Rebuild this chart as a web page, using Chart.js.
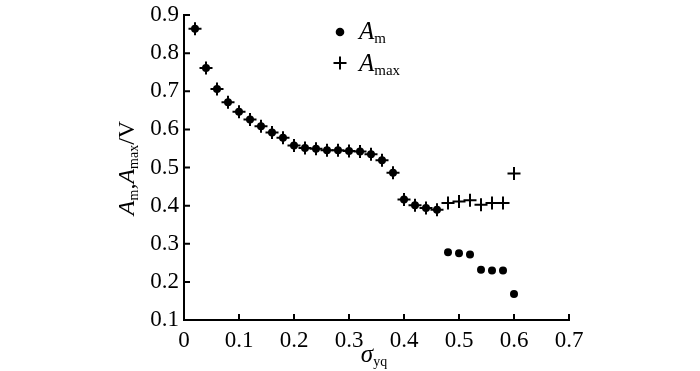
<!DOCTYPE html>
<html>
<head>
<meta charset="utf-8">
<script src="https://cdn.jsdelivr.net/npm/chart.js@4"></script>
<style>
  body { margin: 0; background: #fff; }
</style>
</head>
<body>
<canvas id="amChart" width="700" height="371"></canvas>
<script>
// sigma_yq values
var sigma = [0.02, 0.04, 0.06, 0.08, 0.10, 0.12, 0.14, 0.16, 0.18, 0.20,
             0.22, 0.24, 0.26, 0.28, 0.30, 0.32, 0.34, 0.36, 0.38, 0.40,
             0.42, 0.44, 0.46, 0.48, 0.50, 0.52, 0.54, 0.56, 0.58, 0.60];
// A_m (dots)
var am = [0.864, 0.761, 0.706, 0.671, 0.646, 0.626, 0.608, 0.592, 0.578, 0.558,
          0.551, 0.549, 0.545, 0.545, 0.543, 0.542, 0.535, 0.519, 0.486, 0.416,
          0.401, 0.394, 0.389, 0.278, 0.275, 0.272, 0.232, 0.230, 0.230, 0.168];
// A_max (crosses)
var amax = [0.864, 0.761, 0.706, 0.671, 0.646, 0.626, 0.608, 0.592, 0.578, 0.558,
            0.551, 0.549, 0.545, 0.545, 0.543, 0.542, 0.535, 0.519, 0.486, 0.416,
            0.401, 0.394, 0.389, 0.407, 0.411, 0.414, 0.402, 0.407, 0.407, 0.484];
var xTicks = [0, 0.1, 0.2, 0.3, 0.4, 0.5, 0.6, 0.7];
var yTicks = [0.1, 0.2, 0.3, 0.4, 0.5, 0.6, 0.7, 0.8, 0.9];

var FONT = '"Liberation Serif", "Times New Roman", serif';
Chart.defaults.font.family = FONT;
Chart.defaults.color = '#000';

function pts(ys) {
  return sigma.map(function (x, i) { return { x: x, y: ys[i] }; });
}

// draw text with italic letters and subscripts
function drawRich(ctx, parts, x, y, align) {
  var w = 0;
  parts.forEach(function (p) {
    ctx.font = (p.it ? 'italic ' : '') + p.s + 'px ' + FONT;
    p.w = ctx.measureText(p.t).width;
    w += p.w;
  });
  var cx = align === 'center' ? x - w / 2 : x;
  ctx.textAlign = 'left';
  ctx.textBaseline = 'alphabetic';
  parts.forEach(function (p) {
    ctx.font = (p.it ? 'italic ' : '') + p.s + 'px ' + FONT;
    ctx.fillText(p.t, cx, y + (p.dy || 0));
    cx += p.w;
  });
}

function noPad(s) {
  s.paddingTop = 0; s.paddingBottom = 0;
  s.paddingLeft = 0; s.paddingRight = 0;
}

var decor = {
  id: 'decor',
  afterDraw: function (chart) {
    var ctx = chart.ctx, a = chart.chartArea;
    var xs = chart.scales.x, ys = chart.scales.y;
    ctx.save();
    ctx.fillStyle = '#000';
    ctx.strokeStyle = '#000';
    ctx.lineWidth = 2;
    // inward ticks
    ctx.beginPath();
    xTicks.forEach(function (v) {
      if (v === 0) return;
      var px = xs.getPixelForValue(v);
      ctx.moveTo(px, a.bottom);
      ctx.lineTo(px, a.bottom - 6);
    });
    yTicks.forEach(function (v) {
      if (v === 0.1) return;
      var py = ys.getPixelForValue(v);
      ctx.moveTo(a.left, py);
      ctx.lineTo(a.left + 6, py);
    });
    ctx.stroke();

    // x title
    drawRich(ctx, [
      { t: '\u03c3', s: 25, it: true },
      { t: 'yq', s: 14, dy: 4 }
    ], 374, 362, 'center');

    // y title
    ctx.save();
    ctx.translate(134, 168);
    ctx.rotate(-Math.PI / 2);
    drawRich(ctx, [
      { t: 'A', s: 24, it: true },
      { t: 'm', s: 14, dy: 4 },
      { t: ',', s: 24 },
      { t: 'A', s: 24, it: true },
      { t: 'max', s: 14, dy: 4 },
      { t: '/V', s: 24 }
    ], 0, 0, 'center');
    ctx.restore();

    // legend
    ctx.beginPath();
    ctx.arc(340, 32, 4.3, 0, Math.PI * 2);
    ctx.fill();
    drawRich(ctx, [
      { t: 'A', s: 25, it: true },
      { t: 'm', s: 15, dy: 4 }
    ], 359, 39, 'left');
    ctx.beginPath();
    ctx.moveTo(333.5, 63); ctx.lineTo(346.5, 63);
    ctx.moveTo(340, 56.5); ctx.lineTo(340, 69.5);
    ctx.stroke();
    drawRich(ctx, [
      { t: 'A', s: 25, it: true },
      { t: 'max', s: 15, dy: 4 }
    ], 359, 71, 'left');
    ctx.restore();
  }
};

var getAm = document.getElementById('amChart').getContext('2d');
var amChart = new Chart(getAm, {
  type: 'scatter',
  data: {
    datasets: [{
      label: 'Am',
      data: pts(am),
      pointStyle: 'circle',
      pointRadius: 4,
      backgroundColor: '#000',
      borderColor: '#000',
      borderWidth: 0
    }, {
      label: 'Amax',
      data: pts(amax),
      pointStyle: 'cross',
      pointRadius: 6.5,
      borderColor: '#000',
      borderWidth: 2
    }]
  },
  options: {
    responsive: false,
    animation: false,
    events: [],
    layout: { padding: { top: 15, right: 131, left: 0, bottom: 0 } },
    plugins: { legend: { display: false }, tooltip: { enabled: false } },
    scales: {
      x: {
        type: 'linear',
        min: 0,
        max: 0.7,
        afterFit: function (s) { s.height = 51; noPad(s); },
        afterBuildTicks: function (s) { s.ticks = xTicks.map(function (v) { return { value: v }; }); },
        grid: { display: false, drawTicks: false },
        border: { display: true, color: '#000', width: 2 },
        ticks: {
          padding: 7,
          autoSkip: false,
          maxRotation: 0,
          font: { size: 23 },
          callback: function (v) { return v === 0 ? '0' : v.toFixed(1); }
        }
      },
      y: {
        type: 'linear',
        min: 0.1,
        max: 0.9,
        afterFit: function (s) { s.width = 184; noPad(s); },
        afterBuildTicks: function (s) { s.ticks = yTicks.map(function (v) { return { value: v }; }); },
        grid: { display: false, drawTicks: false },
        border: { display: true, color: '#000', width: 2 },
        ticks: {
          padding: 5,
          font: { size: 23 },
          callback: function (v) { return v.toFixed(1); }
        }
      }
    }
  },
  plugins: [decor]
});
</script>
</body>
</html>
